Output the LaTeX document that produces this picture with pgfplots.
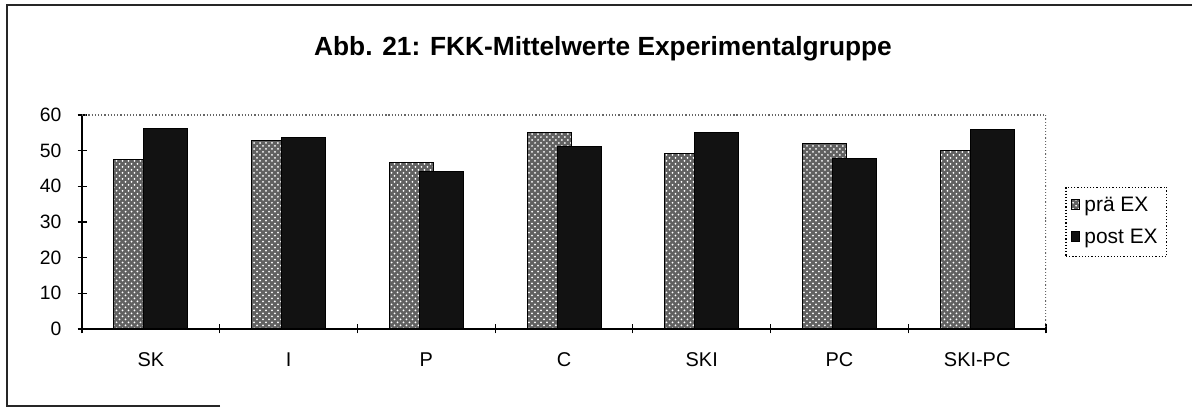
\documentclass[border=0pt]{standalone}
\usepackage{fontspec}
\setmainfont{Liberation Sans}
\usepackage{pgfplots}
\pgfplotsset{compat=1.18}
\usetikzlibrary{patterns}
\begin{document}
\begin{tikzpicture}[x=0.5bp,y=0.5bp]
\useasboundingbox (0,0) rectangle (1195,409);
\coordinate (A) at (82,80);
\draw[black!85, line width=0.6bp] (220,3) -- (7,3) -- (7,404) -- (1192,404);
\node[font=\bfseries\fontsize{13.2}{15}\selectfont, anchor=base] at (603,353) {Abb. 21: FKK-Mittelwerte Experimentalgruppe};
\begin{axis}[at={(A)}, anchor=origin, scale only axis,
  width=482bp, height=107bp,
  xmin=0, xmax=7, ymin=0, ymax=60,
  axis x line*=bottom, axis y line*=left,
  axis line style={-, black, line width=0.6bp},
  /pgf/number format/assume math mode=true,
  ytick={0,10,...,60},
  tick align=center, major tick length=4.5bp, minor tick length=4.5bp,
  xtick={0.5,1.5,...,6.5}, xticklabels={SK,I,P,C,SKI,PC,SKI-PC},
  major x tick style={draw=none},
  minor xtick={0,1,...,7},
  minor x tick style={draw=black, line width=0.6bp},
  y tick style={draw=black, line width=0.6bp},
  xticklabel style={font=\fontsize{10}{12}\selectfont, yshift=-6bp},
  yticklabel style={font=\fontsize{9.7}{12}\selectfont, xshift=-4.5bp},
  legend style={at={(1.02,0.5)}, anchor=west, draw=black, densely dotted, line width=0.6bp,
    font=\fontsize{10.5}{12}\selectfont, inner xsep=2.5bp, inner ysep=3bp, row sep=3.5bp,
    cells={anchor=west}},
  legend image code/.code={\draw[#1, solid] (0cm,-0.06cm) rectangle (0.15cm,0.11cm);},
]
\addplot[ybar, bar width=22bp, bar shift=-7.5bp, draw=black, line width=0.5bp,
  fill=black!62, postaction={pattern=crosshatch dots, pattern color=white}]
  coordinates {(0.5,47.5) (1.5,52.9) (2.5,46.8) (3.5,55.2) (4.5,49.3) (5.5,52.1) (6.5,50.0)};
\addlegendentry{prä EX}
\addplot[ybar, bar width=22bp, bar shift=7.5bp, draw=black, line width=0.5bp,
  fill=black!93]
  coordinates {(0.5,56.1) (1.5,53.6) (2.5,44.2) (3.5,51.2) (4.5,55.2) (5.5,47.7) (6.5,55.9)};
\addlegendentry{post EX}
\draw[densely dotted, black!60, line width=0.6bp] (rel axis cs:0,1) -- (rel axis cs:1,1) -- (rel axis cs:1,0);
\end{axis}
\end{tikzpicture}
\end{document}
